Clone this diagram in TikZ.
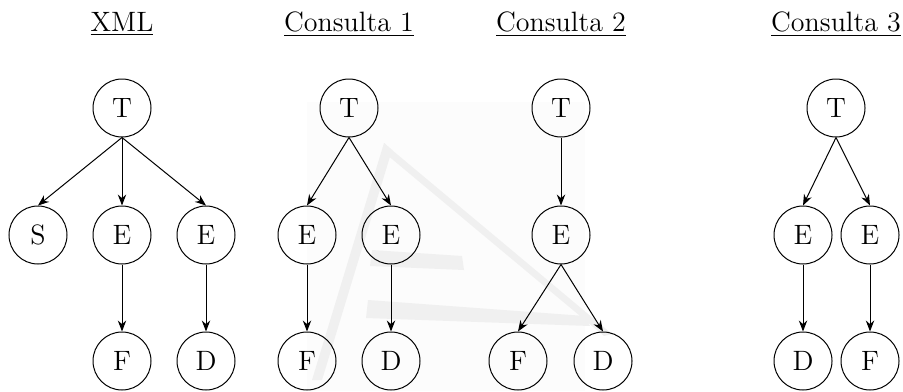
\documentclass[tikz,border=0pt]{standalone}
\usetikzlibrary{arrows.meta}
\begin{document}
\begin{tikzpicture}[x=0.5pt,y=-0.5pt,
  every node/.style={font=\fontsize{14}{16}\selectfont},
  tnode/.style={circle,draw,line width=0.5pt,minimum size=29pt,inner sep=0pt},
  title/.style={inner sep=0pt},
  edge/.style={line width=0.5pt,-{Stealth[length=5.5pt,width=4.2pt,inset=1.8pt]}},
  logopart/.style={fill=black!6,draw=none}]
\useasboundingbox (0,0) rectangle (903,391);

% faint logo behind the middle trees
\fill[black!1.2] (307,102) rectangle (585,391);
\fill[logopart] (384,143) -- (392,150) -- (322,380) -- (312,380) -- cycle;
\fill[logopart] (384,143) -- (392,150) -- (612,334) -- (604,336) -- (386,154) -- cycle;
\fill[logopart] (372,250) -- (462,256) -- (464,270) -- (370,266) -- cycle;
\fill[logopart] (368,300) -- (585,316) -- (590,326) -- (366,318) -- cycle;

% titles
\node[title] (h0) at (122,24) {\underline{XML}};
\node[title] (h1) at (349,24) {\underline{Consulta 1}};
\node[title] (h2) at (561,24) {\underline{Consulta 2}};
\node[title] (h3) at (836,24) {\underline{Consulta 3}};

% XML tree
\node[tnode] (a0) at (122,108) {T};
\node[tnode] (a1) at (38,235) {S};
\node[tnode] (a2) at (122,235) {E};
\node[tnode] (a3) at (206,235) {E};
\node[tnode] (a4) at (122,361) {F};
\node[tnode] (a5) at (206,361) {D};
\draw[edge] (a0.south) -- (a1.north);
\draw[edge] (a0.south) -- (a2.north);
\draw[edge] (a0.south) -- (a3.north);
\draw[edge] (a2.south) -- (a4.north);
\draw[edge] (a3.south) -- (a5.north);

% Consulta 1
\node[tnode] (b0) at (349,108) {T};
\node[tnode] (b1) at (307,235) {E};
\node[tnode] (b2) at (391,235) {E};
\node[tnode] (b3) at (307,361) {F};
\node[tnode] (b4) at (391,361) {D};
\draw[edge] (b0.south) -- (b1.north);
\draw[edge] (b0.south) -- (b2.north);
\draw[edge] (b1.south) -- (b3.north);
\draw[edge] (b2.south) -- (b4.north);

% Consulta 2
\node[tnode] (c0) at (561,108) {T};
\node[tnode] (c1) at (561,235) {E};
\node[tnode] (c2) at (518,361) {F};
\node[tnode] (c3) at (603,361) {D};
\draw[edge] (c0.south) -- (c1.north);
\draw[edge] (c1.south) -- (c2.north);
\draw[edge] (c1.south) -- (c3.north);

% Consulta 3
\node[tnode] (d0) at (836,108) {T};
\node[tnode] (d1) at (803,235) {E};
\node[tnode] (d2) at (870,235) {E};
\node[tnode] (d3) at (803,361) {D};
\node[tnode] (d4) at (870,361) {F};
\draw[edge] (d0.south) -- (d1.north);
\draw[edge] (d0.south) -- (d2.north);
\draw[edge] (d1.south) -- (d3.north);
\draw[edge] (d2.south) -- (d4.north);
\end{tikzpicture}
\end{document}
